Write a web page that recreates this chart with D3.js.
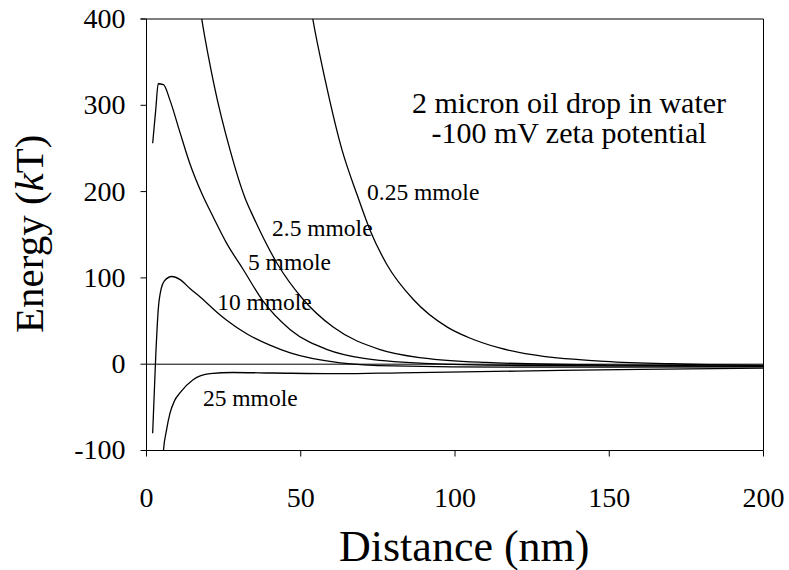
<!DOCTYPE html>
<html>
<head>
<meta charset="utf-8">
<script src="https://cdn.jsdelivr.net/npm/d3@7"></script>
<style>
  html, body { margin: 0; padding: 0; background: #fff; }
  svg { display: block; }
  text { font-family: "Liberation Serif", "Times New Roman", serif !important; fill: #000; }
</style>
</head>
<body>
<svg id="chart" width="789" height="570"></svg>
<script>
// ---------- data ----------
const seriesNames = ["0.25 mmole", "2.5 mmole", "5 mmole", "10 mmole", "25 mmole"];

// [distance nm, energy kT]
const curve025 = [[50,490],[53.9,400],[58,328],[63.4,248],[68.3,196],[72.5,155],[78,115],[86.5,75],[97.5,43],[104,31.5],[114.7,18.5],[125,11],[147,3.5],[170,0.5],[200,-1.5]];
const curve25  = [[15,470],[17.9,400],[22,322],[27.1,248],[32,192],[34.6,171],[42.3,117],[50.8,75],[60.5,43],[75.7,17],[90,7],[110,2],[150,-1],[200,-2]];
const curve5   = [[2,256],[3,295],[3.8,325],[5.5,324],[7.6,306],[10.9,268],[14.1,232],[17.9,198],[21.7,170],[26,140],[31.3,110],[37.8,73],[46.6,40],[58.6,17],[70,7],[90,1],[120,-1.5],[200,-2.5]];
const curve10  = [[2,-80],[3,10],[3.8,63],[4.8,88],[5.7,96],[8.2,101.6],[10.9,98],[14,88],[17.4,78],[22.9,60],[26,51],[32.6,35],[40,22],[46.6,13],[62.8,1.6],[80,-2],[120,-3.5],[200,-3]];
const curve250 = [[5.3,-110],[5.5,-100],[6.5,-76],[7.6,-57],[9,-43],[10.9,-33],[15.1,-18],[20.6,-11],[28,-9.6],[41,-10.2],[62.8,-11],[82,-10],[120,-8],[160,-6],[200,-4.5]];
const curves = [curve025, curve25, curve5, curve10, curve250];

// label anchors in data units (start of text, baseline)
const labelPos = [[71.5,190],[40.7,149],[32.9,109],[22.9,63],[18.3,-49]];

const xTicks = [0, 50, 100, 150, 200];
const yTicks = [-100, 0, 100, 200, 300, 400];
const noteLines = ["2 micron oil drop in water", "-100 mV zeta potential"];
const xTitle = "Distance (nm)";

// ---------- layout ----------
const FONT = '"Liberation Serif", "Times New Roman", serif';
const svg = d3.select("#chart");
const L = 146.5, R = 763.5, T = 19, B = 450.5;
const x = d3.scaleLinear().domain([0, 200]).range([L, R]);
const y = d3.scaleLinear().domain([-100, 400]).range([B, T]);

svg.append("clipPath").attr("id", "clip")
  .append("rect").attr("x", L).attr("y", T).attr("width", R - L).attr("height", B - T);

// frame top & right
svg.append("line").attr("x1", L - 6).attr("x2", R).attr("y1", T).attr("y2", T)
  .attr("stroke", "#000").attr("stroke-width", 1);
svg.append("line").attr("x1", R).attr("x2", R).attr("y1", T).attr("y2", B)
  .attr("stroke", "#000").attr("stroke-width", 1);

// zero line
svg.append("line").attr("x1", L).attr("x2", R).attr("y1", y(0)).attr("y2", y(0))
  .attr("stroke", "#000").attr("stroke-width", 1);

// axes
const fmt = d => String(d);
const yAxis = d3.axisLeft(y).tickValues(yTicks).tickFormat(fmt).tickSize(6).tickSizeOuter(0).tickPadding(15).offset(0);
const gy = svg.append("g").attr("transform", `translate(${L},0)`).call(yAxis);
const xAxis = d3.axisBottom(x).tickValues(xTicks).tickFormat(fmt).tickSize(6).tickSizeOuter(0).tickPadding(31).offset(0);
const gx = svg.append("g").attr("transform", `translate(0,${B})`).call(xAxis);
[gx, gy].forEach(g => {
  g.attr("font-family", null).attr("font-size", null);
  g.selectAll("path.domain").attr("stroke", "#000").attr("stroke-width", 1);
  g.selectAll(".tick line").attr("stroke", "#000");
  g.selectAll("text").style("font-family", FONT).style("font-size", "28px").attr("fill", "#000");
});

// curves
const line = d3.line().x(d => x(d[0])).y(d => y(d[1])).curve(d3.curveMonotoneX);
svg.append("g").attr("clip-path", "url(#clip)")
  .selectAll("path").data(curves).join("path")
  .attr("d", line).attr("fill", "none").attr("stroke", "#000").attr("stroke-width", 1.3);

// curve labels
svg.append("g").selectAll("text").data(seriesNames).join("text")
  .attr("x", (d, i) => x(labelPos[i][0]))
  .attr("y", (d, i) => y(labelPos[i][1]))
  .style("font-family", FONT).style("font-size", "23.5px")
  .text(d => d);

// note
svg.append("g").selectAll("text").data(noteLines).join("text")
  .attr("x", 569).attr("y", (d, i) => 113 + i * 29.5)
  .attr("text-anchor", "middle")
  .style("font-family", FONT).style("font-size", "30px")
  .text(d => d);

// axis titles
svg.append("text").attr("x", 339).attr("y", 561).attr("text-anchor", "start")
  .style("font-family", FONT).style("font-size", "44px").text(xTitle);
const yt = svg.append("text").attr("transform", "translate(43,333) rotate(-90)")
  .attr("text-anchor", "start")
  .style("font-family", FONT).style("font-size", "41px");
yt.append("tspan").text("Energy (");
yt.append("tspan").attr("font-style", "italic").text("k");
yt.append("tspan").text("T)");
</script>
</body>
</html>
